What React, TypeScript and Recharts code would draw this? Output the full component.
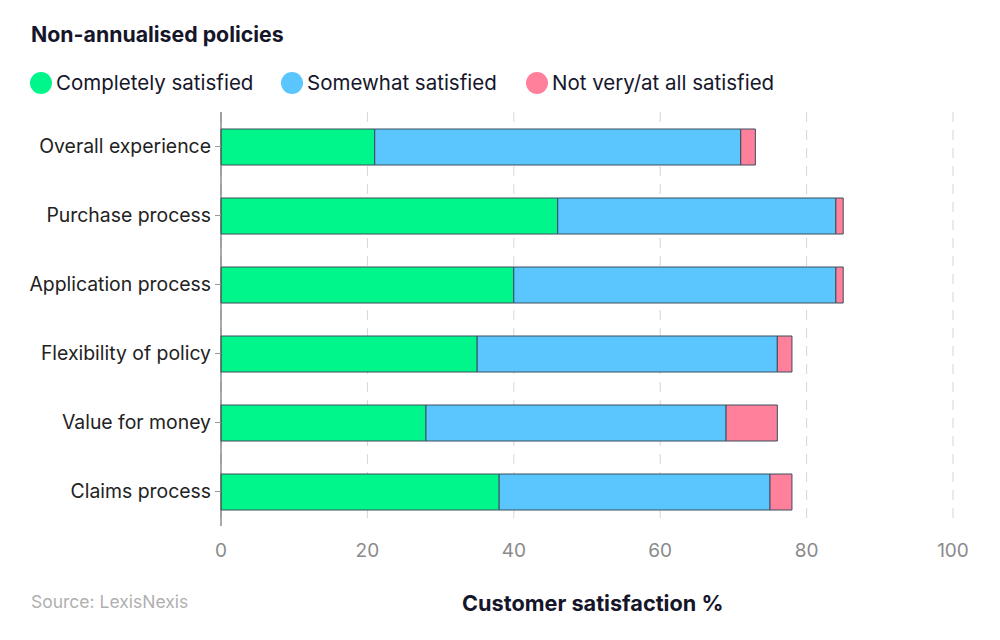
import React from "react";
import { BarChart, Bar, XAxis, YAxis, CartesianGrid } from "recharts";

const categories = [
  "Overall experience",
  "Purchase process",
  "Application process",
  "Flexibility of policy",
  "Value for money",
  "Claims process",
];
const completely = [21, 46, 40, 35, 28, 38];
const somewhat = [50, 38, 44, 41, 41, 37];
const notVery = [2, 1, 1, 2, 7, 3];
const xTicks = [0, 20, 40, 60, 80, 100];

const seriesNames = ["Completely satisfied", "Somewhat satisfied", "Not very/at all satisfied"];
const colors = ["#00F58A", "#5BC5FE", "#FE809B"];

const data = categories.map((name, i) => ({
  name,
  completely: completely[i],
  somewhat: somewhat[i],
  notVery: notVery[i],
}));

const font = "Inter, 'Noto Sans', sans-serif";
const dark = "#16162b";

function Legend() {
  const xs = [30, 281, 526];
  return (
    <>
      {seriesNames.map((n, i) => (
        <div
          key={n}
          style={{
            position: "absolute",
            left: xs[i],
            top: 70,
            display: "flex",
            alignItems: "center",
            fontSize: 20.5,
            color: dark,
          }}
        >
          <span
            style={{
              width: 22,
              height: 22,
              borderRadius: 11,
              background: colors[i],
              display: "inline-block",
              marginRight: 4,
            }}
          />
          {n}
        </div>
      ))}
    </>
  );
}

export default function App() {
  return (
    <div
      style={{
        position: "absolute",
        left: 0,
        top: 0,
        width: 1000,
        height: 640,
        background: "#fff",
        fontFamily: font,
      }}
    >
      <div
        style={{
          position: "absolute",
          left: 31,
          top: 21,
          fontSize: 21.3,
          fontWeight: 700,
          color: dark,
        }}
      >
        Non-annualised policies
      </div>
      <Legend />
      <BarChart
        width={1000}
        height={640}
        data={data}
        layout="vertical"
        barSize={36}
        margin={{ top: 112, right: 47, left: 0, bottom: 0 }}
        style={{ position: "absolute", left: 0, top: 0 }}
      >
        <CartesianGrid
          horizontal={false}
          stroke="#d6d6d6"
          strokeDasharray="10 8"
        />
        <XAxis
          type="number"
          domain={[0, 100]}
          ticks={xTicks}
          height={114}
          axisLine={false}
          tickLine={false}
          tickSize={0}
          tickMargin={18}
          tick={{ fill: "#8a8a8a", fontSize: 19, fontFamily: font }}
        />
        <YAxis
          type="category"
          dataKey="name"
          width={221}
          axisLine={{ stroke: "#555" }}
          tickLine={{ stroke: "#999" }}
          tickSize={6}
          tickMargin={4}
          tick={{ fill: "#222", fontSize: 19.4, fontFamily: font }}
        />
        <Bar
          dataKey="completely"
          stackId="a"
          fill={colors[0]}
          stroke="#3c4c5c"
          strokeWidth={1}
          isAnimationActive={false}
        />
        <Bar
          dataKey="somewhat"
          stackId="a"
          fill={colors[1]}
          stroke="#3c4c5c"
          strokeWidth={1}
          isAnimationActive={false}
        />
        <Bar
          dataKey="notVery"
          stackId="a"
          fill={colors[2]}
          stroke="#3c4c5c"
          strokeWidth={1}
          isAnimationActive={false}
        />
      </BarChart>
      <div
        style={{
          position: "absolute",
          left: 31,
          top: 591,
          fontSize: 17.5,
          color: "#b0b0b0",
        }}
      >
        Source: LexisNexis
      </div>
      <div
        style={{
          position: "absolute",
          left: 462,
          top: 590,
          fontSize: 21.7,
          fontWeight: 700,
          color: dark,
        }}
      >
        Customer satisfaction %
      </div>
    </div>
  );
}
